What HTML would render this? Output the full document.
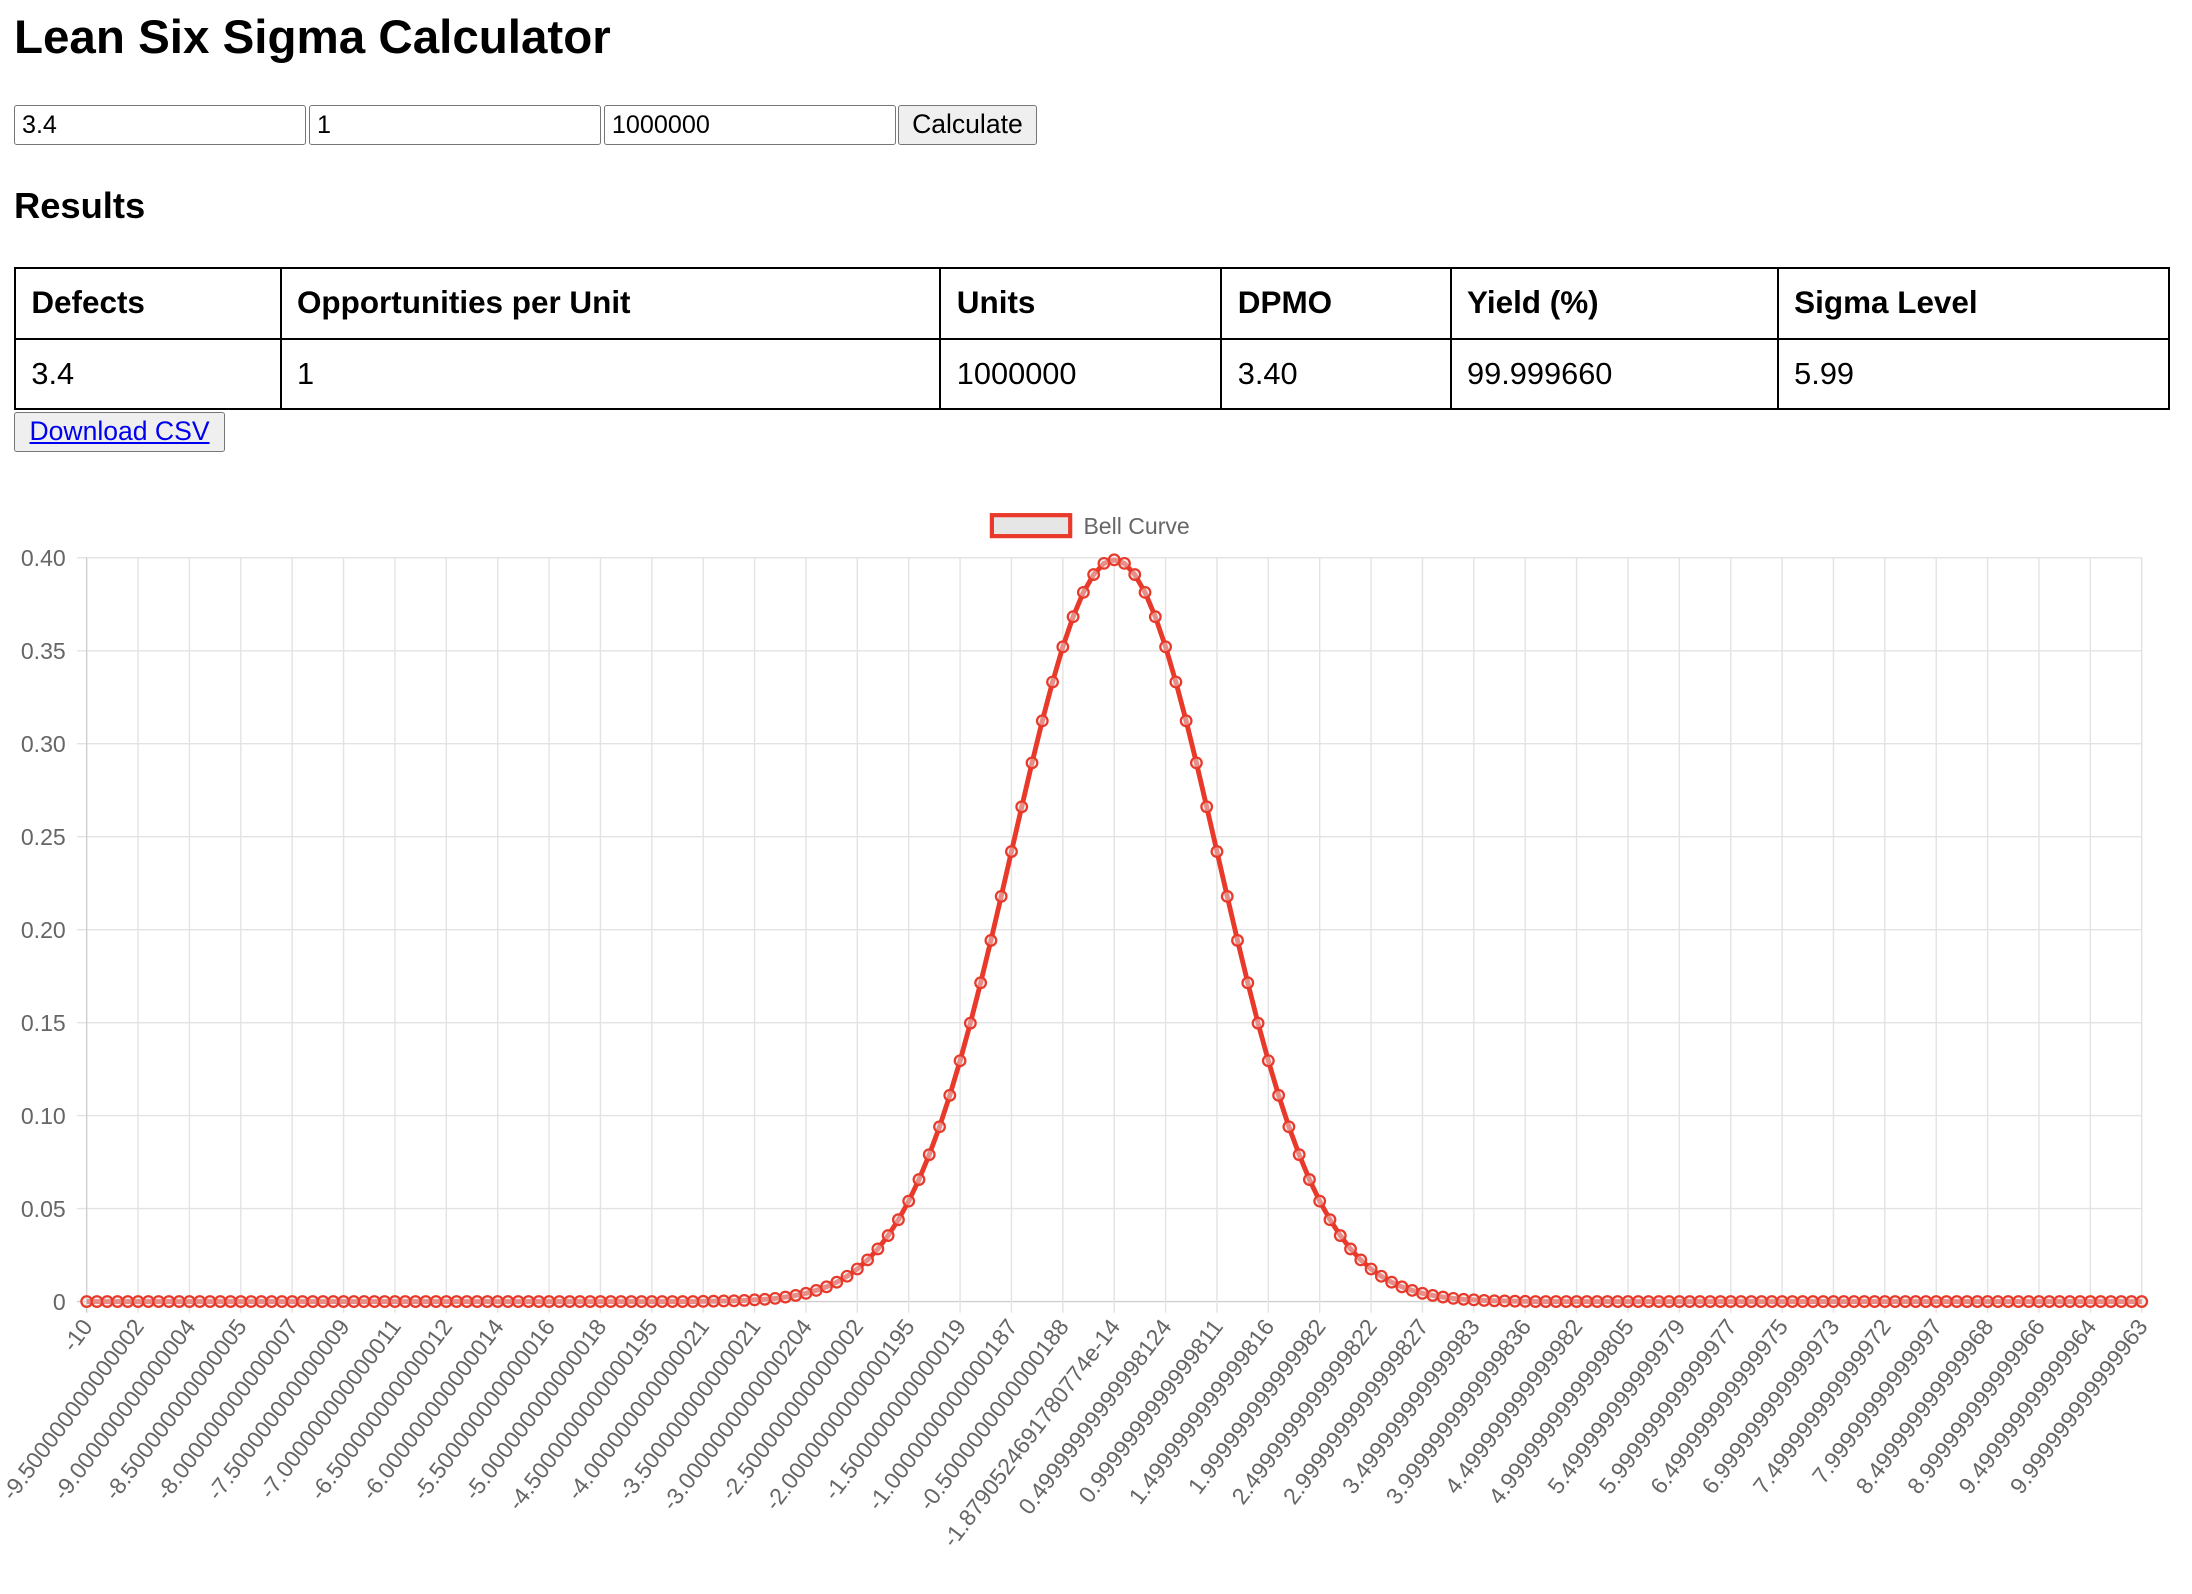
<!DOCTYPE html>
<html><head><meta charset="utf-8"><style>
html,body{margin:0;padding:0;background:#fff;}
body{width:2192px;height:1594px;overflow:hidden;}
#wrap{zoom:1.398;width:1568px;height:1140px;position:relative;font-family:"Liberation Sans",Arial,sans-serif;color:#000;}
h1{position:absolute;left:10px;top:7px;margin:0;font-size:34px;font-weight:bold;}
h2{position:absolute;left:10px;top:132px;margin:0;font-size:26px;font-weight:bold;}
.inp{position:absolute;top:75px;height:29px;width:209px;box-sizing:border-box;border:1px solid #767676;border-radius:2px;font-size:18px;padding:2px 5px;font-family:inherit;background:#fff;line-height:23px;}
.btn{position:absolute;box-sizing:border-box;border:1px solid #767676;border-radius:2px;background:#efefef;font-size:19px;text-align:center;font-family:inherit;}
table{position:absolute;left:10px;top:191px;width:1541px;border-collapse:collapse;table-layout:fixed;}
td,th{border:1.5px solid #000;height:49px;padding:0 11px;text-align:left;font-size:22px;}
th{font-size:22.5px;}
</style></head><body>
<div id="wrap">
<h1>Lean Six Sigma Calculator</h1>
<div class="inp" style="left:10px">3.4</div>
<div class="inp" style="left:221px">1</div>
<div class="inp" style="left:432px">1000000</div>
<div class="btn" style="left:642px;top:75px;width:100px;height:29px;line-height:27px">Calculate</div>
<h2>Results</h2>
<table>
<colgroup><col style="width:190px"><col style="width:472px"><col style="width:201px"><col style="width:164px"><col style="width:234px"><col style="width:280px"></colgroup>
<tr><th>Defects</th><th>Opportunities per Unit</th><th>Units</th><th>DPMO</th><th>Yield (%)</th><th>Sigma Level</th></tr>
<tr><td>3.4</td><td>1</td><td>1000000</td><td>3.40</td><td>99.999660</td><td>5.99</td></tr>
</table>
<div class="btn" style="left:10px;top:295px;width:151px;height:28px;line-height:26px"><span style="color:#0000ee;text-decoration:underline">Download CSV</span></div>
<svg id="chart" width="1568" height="1140" style="position:absolute;left:0;top:0"></svg>
</div>
<script>
const yTicks = [0, 0.05, 0.10, 0.15, 0.20, 0.25, 0.30, 0.35, 0.40];
const yTickLabels = ["0","0.05","0.10","0.15","0.20","0.25","0.30","0.35","0.40"];
const xTickLabels = ["-10","-9.500000000000002","-9.000000000000004","-8.500000000000005","-8.000000000000007","-7.500000000000009","-7.000000000000011","-6.500000000000012","-6.000000000000014","-5.500000000000016","-5.000000000000018","-4.5000000000000195","-4.000000000000021","-3.500000000000021","-3.0000000000000204","-2.500000000000002","-2.0000000000000195","-1.500000000000019","-1.0000000000000187","-0.5000000000000188","-1.8790524691780774e-14","0.49999999999998124","0.9999999999999811","1.4999999999999816","1.999999999999982","2.4999999999999822","2.9999999999999827","3.499999999999983","3.9999999999999836","4.499999999999982","4.9999999999999805","5.499999999999979","5.999999999999977","6.499999999999975","6.999999999999973","7.499999999999972","7.99999999999997","8.499999999999968","8.999999999999966","9.499999999999964","9.999999999999963"];
const zeros60 = [0,0,0,0,0,0,0,0,0,0,0,0,0,0,0,0,0,0,0,0,0,0,0,0,0,0,0,0,0,0,0,0,0,0,0,0,0,0,0,0,0,0,0,0,0,0,0,0,0,0,0,0,0,0,0,0,0,0,0,0];
const bellLeft = [0.0001,0.0002,0.0003,0.0004,0.0006,0.0009,0.0012,0.0017,0.0024,0.0033,0.0044,0.0060,0.0079,0.0104,0.0136,0.0175,0.0224,0.0283,0.0355,0.0440,0.0540,0.0656,0.0790,0.0940,0.1109,0.1295,0.1497,0.1714,0.1942,0.2179,0.2420,0.2661,0.2897,0.3123,0.3332,0.3521,0.3683,0.3814,0.3910,0.3970];
const bellPeak = [0.3989];
const bellRight = [0.3970,0.3910,0.3814,0.3683,0.3521,0.3332,0.3123,0.2897,0.2661,0.2420,0.2179,0.1942,0.1714,0.1497,0.1295,0.1109,0.0940,0.0790,0.0656,0.0540,0.0440,0.0355,0.0283,0.0224,0.0175,0.0136,0.0104,0.0079,0.0060,0.0044,0.0033,0.0024,0.0017,0.0012,0.0009,0.0006,0.0004,0.0003,0.0002,0.0001];
const values = zeros60.concat(bellLeft, bellPeak, bellRight, zeros60);

const NS = "http://www.w3.org/2000/svg";
const svg = document.getElementById('chart');
const L = 62, R = 1532, T = 399, B = 931, YMAX = 0.40;
const xPos = i => L + i * (R - L) / (values.length - 1);
const xTick = k => L + k * (R - L) / (xTickLabels.length - 1);
const yPos = v => B - v / YMAX * (B - T);
function mk(tag, attrs) { const e = document.createElementNS(NS, tag); for (const k in attrs) e.setAttribute(k, attrs[k]); svg.appendChild(e); return e; }

yTicks.forEach((v, i) => {
  const g = mk('line', {x1: 55, x2: R, y1: yPos(v), y2: yPos(v), stroke: i === 0 ? '#cfcfcf' : '#e3e3e3', 'stroke-width': 1});
  
  
  const t = mk('text', {x: 47, y: yPos(v) + 6, 'text-anchor': 'end', 'font-size': 16.5, fill: '#666', 'font-family': 'Liberation Sans, Arial, sans-serif'});
  t.textContent = yTickLabels[i];
  
  
});
xTickLabels.forEach((lab, k) => {
  const x = xTick(k);
  const g = mk('line', {x1: x, x2: x, y1: T, y2: B + 8, stroke: k === 0 ? '#cfcfcf' : '#e3e3e3', 'stroke-width': 1});
  
  
  const t = mk('text', {x: x + 5, y: B + 18, 'text-anchor': 'end', 'font-size': 16.5, fill: '#666', 'font-family': 'Liberation Sans, Arial, sans-serif', transform: `rotate(-53 ${x + 5} ${B + 18})`});
  t.textContent = lab;
  
  
});
let d = '';
values.forEach((v, i) => { d += (i ? 'L' : 'M') + xPos(i).toFixed(2) + ' ' + yPos(v).toFixed(2); });
const path = mk('path', {d: d, fill: 'none', stroke: '#e8392a', 'stroke-width': 3.5, 'stroke-linejoin': 'round'});


values.forEach((v, i) => {
  const c = mk('circle', {cx: xPos(i), cy: yPos(v), r: 3.8, fill: 'rgba(228,228,228,0.5)', stroke: '#e8392a', 'stroke-width': 1.6});
  
  
});
const lb = mk('rect', {x: 709.5, y: 368.5, width: 56, height: 15, fill: '#e6e6e6', stroke: '#e8392a', 'stroke-width': 3});


const lt = mk('text', {x: 775, y: 382, 'font-size': 16.5, fill: '#666', 'font-family': 'Liberation Sans, Arial, sans-serif'});
lt.textContent = 'Bell Curve';


</script>
</body></html>
